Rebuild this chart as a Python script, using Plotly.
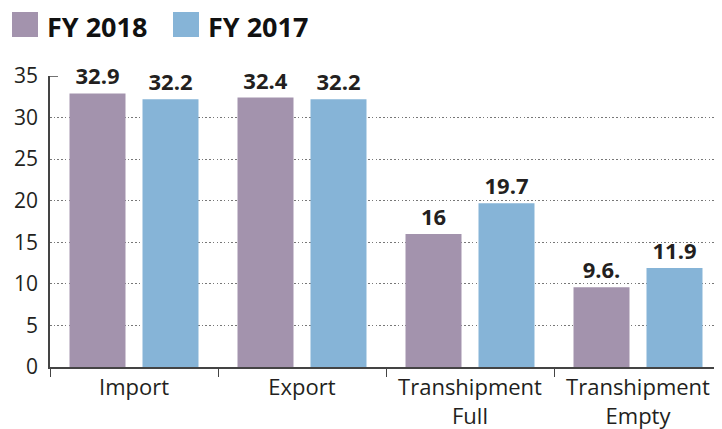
import plotly.graph_objects as go

categories = ["Import", "Export", "Transhipment<br>Full", "Transhipment<br>Empty"]
fy2018 = [32.9, 32.4, 16, 9.6]
fy2017 = [32.2, 32.2, 19.7, 11.9]
fy2018_labels = ["32.9", "32.4", "16", "9.6."]
fy2017_labels = ["32.2", "32.2", "19.7", "11.9"]
series_names = ["FY 2018", "FY 2017"]
colors = ["#A393AD", "#86B4D7"]
y_ticks = [0, 5, 10, 15, 20, 25, 30, 35]

# page body has an 8px default margin; figure is sized to compensate
W, H = 714, 421
FONT = "Open Sans"
PX0, PY0, PW, PH = 50, 76, 672, 291  # plot area in page pixels


def px(xp):
    return (xp - PX0) / PW


def py(yp):
    return (PY0 + PH - yp) / PH


fig = go.Figure()
for vals, labels, name, col in [(fy2018, fy2018_labels, series_names[0], colors[0]),
                                (fy2017, fy2017_labels, series_names[1], colors[1])]:
    fig.add_trace(go.Bar(
        x=categories, y=vals, name=name, marker=dict(color=col, line=dict(width=0)),
        text=labels, textposition="outside", cliponaxis=False,
        textfont=dict(family=FONT, size=22, color="#231F20", weight="bold"),
        showlegend=False,
    ))

# custom legend (large squares)
legend_x = [12, 173]
for i, (name, col) in enumerate(zip(series_names, colors)):
    x0 = legend_x[i]
    fig.add_shape(type="rect", xref="paper", yref="paper",
                  x0=px(x0), x1=px(x0 + 26), y0=py(37), y1=py(12),
                  fillcolor=col, line=dict(width=0))
    fig.add_annotation(text=name, xref="paper", yref="paper",
                       x=px(x0 + 85), y=py(26.5), borderpad=0,
                       xanchor="center", yanchor="middle", showarrow=False,
                       font=dict(family=FONT, size=27, color="#111", weight="bold"))

# small tick at top of y axis
fig.add_shape(type="line", xref="paper", yref="y", x0=0, x1=px(PX0 + 8), y0=35, y1=35,
              line=dict(color="#444", width=1.5))

fig.update_layout(
    width=W, height=H,
    margin=dict(l=42, r=0, t=68, b=H - 68 - PH, autoexpand=False),
    paper_bgcolor="white", plot_bgcolor="white",
    barmode="group", bargap=0.131, bargroupgap=0.233,
    font=dict(family=FONT, color="#231F20"),
    xaxis=dict(showline=True, linecolor="#444", linewidth=1.5,
               ticks="outside", tickson="boundaries", ticklen=8, tickcolor="#444",
               tickfont=dict(family=FONT, size=22, color="#231F20"),
               showgrid=False),
    yaxis=dict(range=[0, 35], tickvals=y_ticks, showline=True, linecolor="#444",
               linewidth=1.5, showgrid=True, gridcolor="#777", griddash="1.5px,2.2px",
               gridwidth=1.2, zeroline=False, ticks="", ticklabelstandoff=6,
               tickfont=dict(family=FONT, size=21, color="#231F20")),
)

fig.write_html("out.html")
